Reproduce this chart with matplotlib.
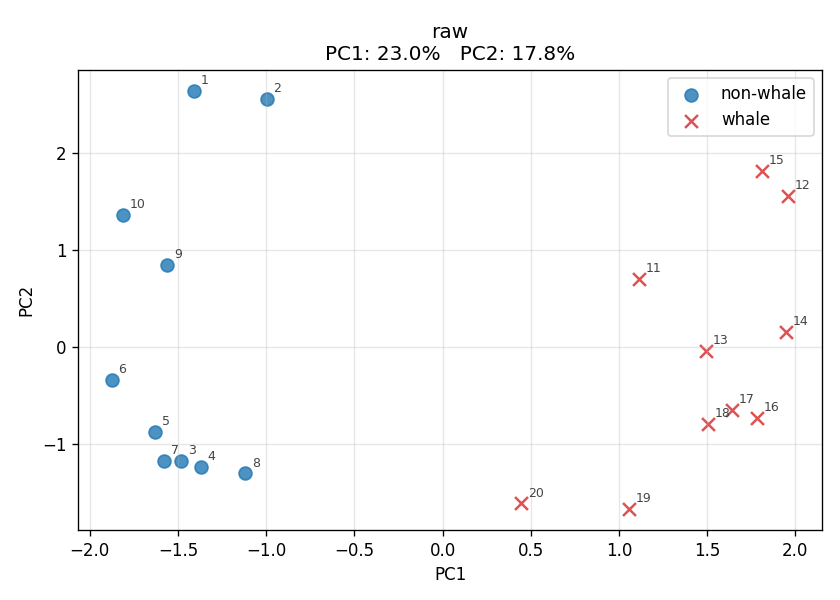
import matplotlib
matplotlib.use("Agg")
import matplotlib.pyplot as plt

nonwhale_ids = [1, 2, 3, 4, 5, 6, 7, 8, 9, 10]
nonwhale_pc1 = [-1.41, -0.996, -1.48, -1.37, -1.63, -1.875, -1.58, -1.12, -1.56, -1.81]
nonwhale_pc2 = [2.64, 2.56, -1.175, -1.237, -0.876, -0.34, -1.175, -1.30, 0.845, 1.36]

whale_ids = [11, 12, 13, 14, 15, 16, 17, 18, 19, 20]
whale_pc1 = [1.115, 1.96, 1.495, 1.95, 1.813, 1.785, 1.643, 1.506, 1.058, 0.445]
whale_pc2 = [0.70, 1.557, -0.04, 0.155, 1.814, -0.73, -0.65, -0.79, -1.67, -1.61]

fig, ax = plt.subplots(figsize=(7.0, 5.0), dpi=120)
ax.scatter(nonwhale_pc1, nonwhale_pc2, s=60, c="#1f77b4", alpha=0.8, marker="o", label="non-whale")
ax.scatter(whale_pc1, whale_pc2, s=60, c="#d62728", alpha=0.8, marker="x", linewidths=1.5, label="whale")

for i, x, y in zip(nonwhale_ids, nonwhale_pc1, nonwhale_pc2):
    ax.annotate(str(i), (x, y), xytext=(4, 4), textcoords="offset points", fontsize=7.5, color="#444444")
for i, x, y in zip(whale_ids, whale_pc1, whale_pc2):
    ax.annotate(str(i), (x, y), xytext=(4, 4), textcoords="offset points", fontsize=7.5, color="#444444")

ax.set_xlabel("PC1")
ax.set_ylabel("PC2")
ax.set_title("raw\nPC1: 23.0%   PC2: 17.8%")
ax.grid(True, alpha=0.3)
ax.legend(loc="upper right")
fig.subplots_adjust(left=78/840, right=822/840, top=1-70/600, bottom=1-530/600)
fig.savefig("out.png", dpi=120)
